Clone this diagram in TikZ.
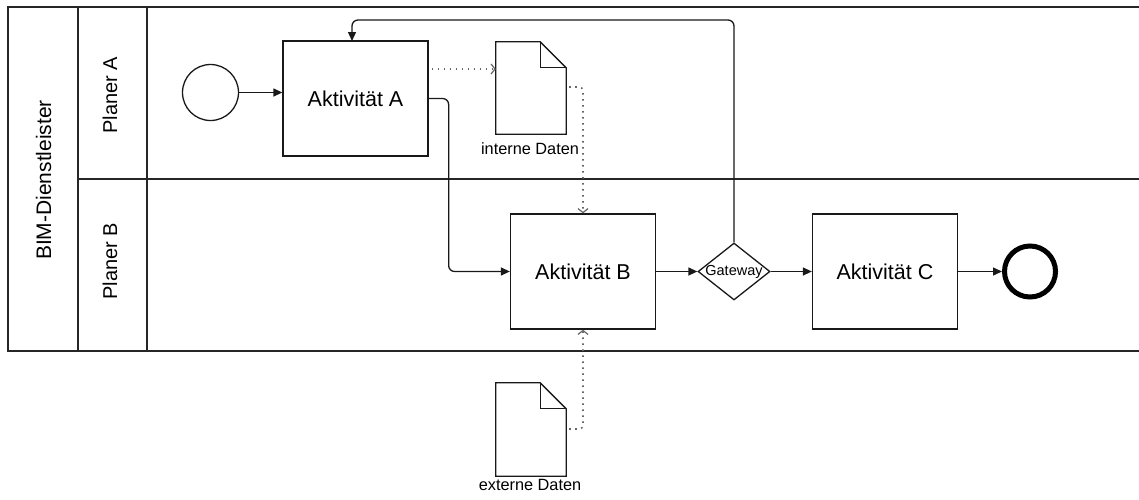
\documentclass[tikz,border=0pt]{standalone}
\usepackage{fontspec}
\setmainfont{Liberation Sans}
\usetikzlibrary{shapes.geometric,arrows.meta}
\begin{document}
\begin{tikzpicture}[x=1pt,y=-1pt,
  poolline/.style={draw=black!85, line width=1.8pt},
  task/.style={draw=black!90, line width=1.3pt, minimum width=145, minimum height=115,
    inner sep=0, font=\fontsize{21.5}{25}\selectfont},
  lanelabel/.style={rotate=90, font=\fontsize{20}{24}\selectfont},
  startev/.style={circle, draw=black!90, line width=1.3pt, minimum size=56, inner sep=0},
  endev/.style={circle, draw=black, line width=5pt, minimum size=51, inner sep=0},
  gw/.style={diamond, draw=black!90, line width=1.3pt, minimum width=72, minimum height=57, inner sep=0},
  docbox/.style={minimum width=70, minimum height=92, inner sep=0},
  docline/.style={draw=black!90, line width=1.3pt, line join=miter},
  doclabel/.style={font=\fontsize{16.3}{19}\selectfont},
  flow/.style={draw=black!90, line width=1.3pt, rounded corners=6pt,
    -{Triangle[length=9pt,width=8pt]}},
  assoc/.style={draw=black!60, line width=1.6pt, dash pattern=on 1.6pt off 4.4pt,
    dash phase=-3pt, rounded corners=4pt,
    -{Straight Barb[length=4pt,width=10pt,line width=1.2pt]}}
]
\useasboundingbox (0,0) rectangle (1139,499);

% pool and lanes
\draw[poolline] (1139,7) -- (8,7) -- (8,351) -- (1139,351);
\draw[poolline] (78,7) -- (78,351);
\draw[poolline] (147,7) -- (147,351);
\draw[poolline] (78,179) -- (1139,179);

\node[lanelabel, font=\fontsize{21}{25}\selectfont] (pool) at (43.5,180) {BIM-Dienstleister};
\node[lanelabel] (laneA) at (110,95) {Planer A};
\node[lanelabel] (laneB) at (110,261) {Planer B};

% flow objects
\node[startev] (S) at (210.5,92.5) {};
\node[task] (A) at (355.5,98.5) {Aktivität A};
\node[task] (B) at (583,271.5) {Aktivität B};
\node[gw] (G) at (734,271.5) {};
\node[font=\fontsize{14.5}{17}\selectfont] (GT) at (G) {Gateway};
\node[task] (C) at (885,271.5) {Aktivität C};
\node[endev] (E) at (1030,271.5) {};

% data objects
\node[docbox] (D1) at (531,88) {};
\draw[docline] (D1.south west) -- (D1.north west) -- ([xshift=-26pt]D1.north east)
  -- ([yshift=-26pt]D1.north east) -- (D1.south east) -- cycle;
\draw[docline] ([xshift=-26pt]D1.north east) |- ([yshift=-26pt]D1.north east);
\node[doclabel] (L1) at (530,149) {interne Daten};

\node[docbox, minimum height=93] (D2) at (531,429.5) {};
\draw[docline] (D2.south west) -- (D2.north west) -- ([xshift=-26pt]D2.north east)
  -- ([yshift=-26pt]D2.north east) -- (D2.south east) -- cycle;
\draw[docline] ([xshift=-26pt]D2.north east) |- ([yshift=-26pt]D2.north east);
\node[doclabel] (L2) at (530,485) {externe Daten};

% sequence flows
\draw[flow] (S.east) -- (S.east -| A.west);
\draw[flow] (A.east) -- ++(20,0) |- (B.west);
\draw[flow] (B.east) -- (G.west);
\draw[flow] (G.east) -- (C.west);
\draw[flow] (C.east) -- (E.west);
\draw[flow] (G.north) -- (G.north |- 0,20) -| (352,41);

% associations
\draw[assoc] (A.east |- 0,69) -- (D1.west |- 0,69);
\draw[assoc] (D1.east |- 0,87) -| (B.north);
\draw[assoc] (D2.east |- 0,429) -| (B.south);
\end{tikzpicture}
\end{document}
